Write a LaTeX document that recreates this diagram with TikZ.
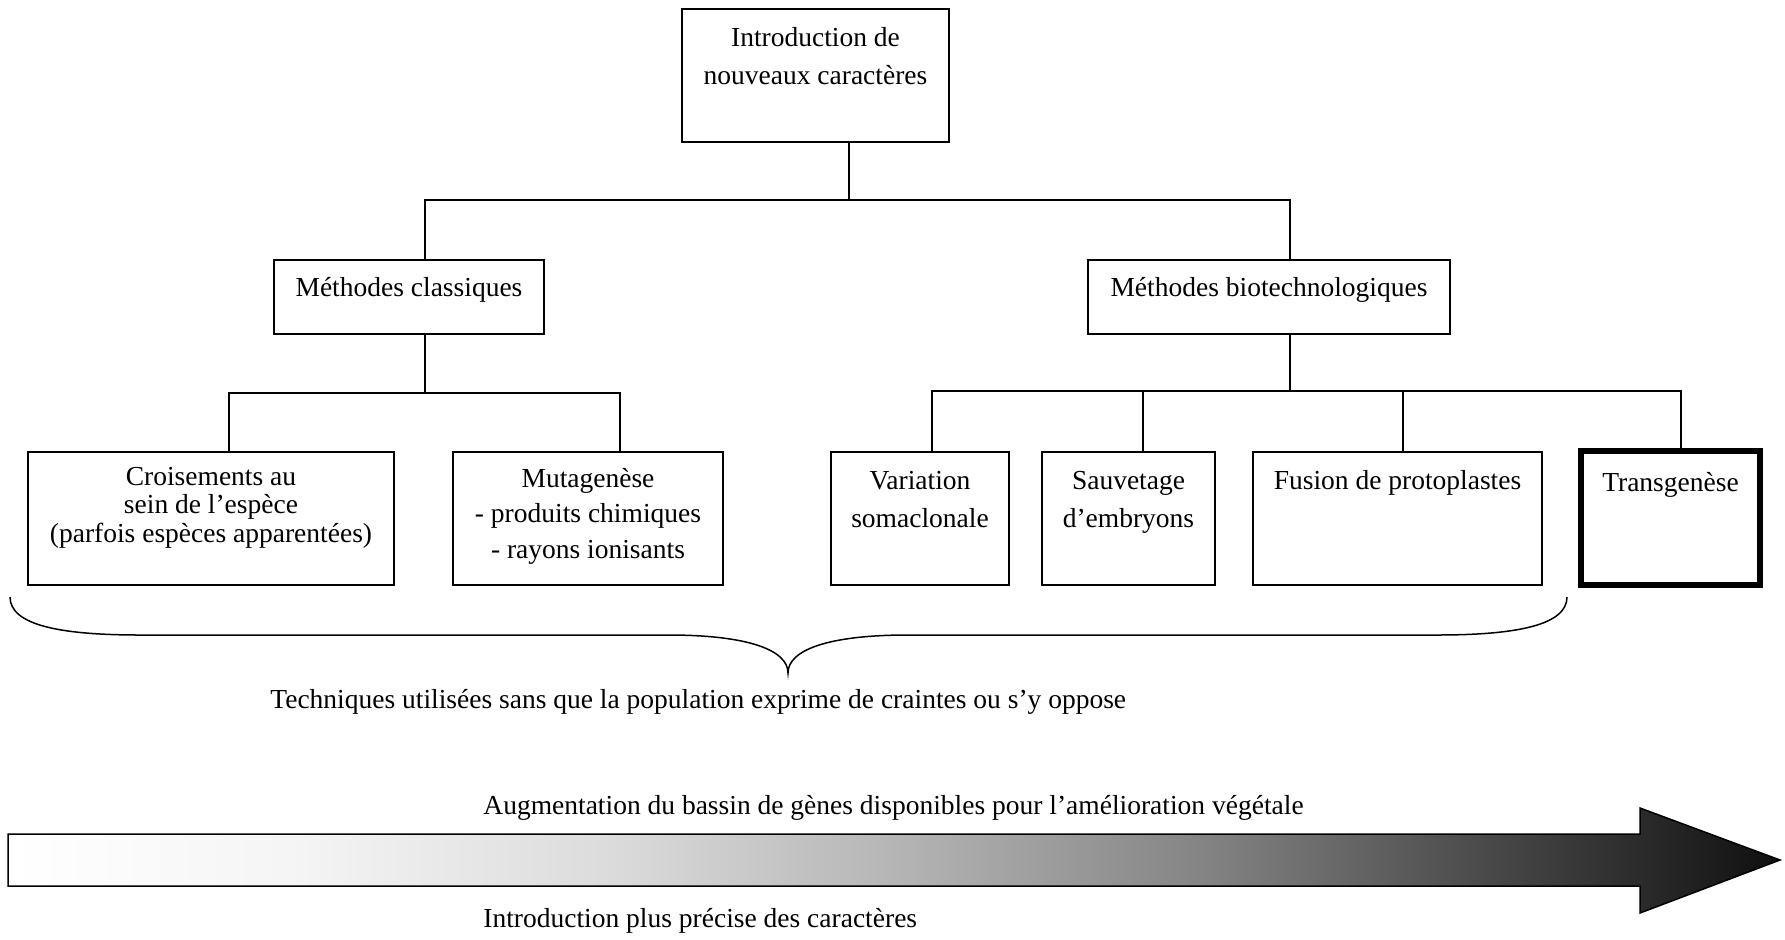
\documentclass[tikz,border=0pt]{standalone}
\usepackage{fontspec}
\setmainfont{Liberation Serif}
\pgfdeclarehorizontalshading{arrowshade}{100bp}{color(0bp)=(white); color(25bp)=(white); color(33bp)=(black!4); color(42bp)=(black!14); color(50bp)=(black!29); color(58.6bp)=(black!48); color(67bp)=(black!72); color(75bp)=(black!94); color(100bp)=(black!94)}
\begin{document}
\begin{tikzpicture}[x=0.5pt,y=-0.5pt,
		font=\fontsize{13.75}{19}\selectfont,
		box/.style={draw,line width=1pt,minimum height=66.5pt,inner sep=0pt},
		lbl/.style={anchor=base,align=center,inner sep=0pt},
		link/.style={line width=0.8pt}]
	\useasboundingbox (0,0) rectangle (1785,939);
	\node[box,minimum width=133.5pt] (intro) at (815.5,75.5) {};
	\node[box,minimum width=135pt,minimum height=37pt] (clas) at (409,297) {};
	\node[box,minimum width=181pt,minimum height=37pt] (bio) at (1269,297) {};
	\node[box,minimum width=183pt] (crois) at (211,518.5) {};
	\node[box,minimum width=134.75pt] (muta) at (588,518.5) {};
	\node[box,minimum width=89.25pt] (vari) at (920,518.5) {};
	\node[box,minimum width=86.5pt] (sauv) at (1128.5,518.5) {};
	\node[box,minimum width=144.5pt] (fusi) at (1397.5,518.5) {};
	\node[box,minimum width=89.5pt,minimum height=67pt,line width=3.25pt] (trans) at (1670.5,518) {};
	% base anchor = last line
	\node[lbl] (intro-t) at (815.5,84) {Introduction de\\nouveaux caractères};
	\node[lbl] (clas-t) at (409,296) {Méthodes classiques};
	\node[lbl] (bio-t) at (1269,296) {Méthodes biotechnologiques};
	\node[lbl,font=\fontsize{13.75}{14.25}\selectfont] (crois-t) at (211,542) {Croisements au\\sein de l’espèce\\(parfois espèces apparentées)};
	\node[lbl,font=\fontsize{13.75}{17.75}\selectfont] (muta-t) at (588,558) {Mutagenèse\\- produits chimiques\\- rayons ionisants};
	\node[lbl] (vari-t) at (920,527) {Variation\\somaclonale};
	\node[lbl] (sauv-t) at (1128.5,527) {Sauvetage\\d’embryons};
	\node[lbl] (fusi-t) at (1397.5,489) {Fusion de protoplastes};
	\node[lbl] (trans-t) at (1670.5,491) {Transgenèse};
	\coordinate (j0) at (849,200);
	\coordinate (j1) at (425,393);
	\coordinate (j2) at (1290,391);
	\draw[link] (intro.south -| j0) -- (j0);
	\draw[link] (clas.north -| j1) |- (j0) -| (bio.north -| j2);
	\draw[link] (clas.south -| j1) -- (j1);
	\draw[link] (bio.south -| j2) -- (j2);
	\draw[link] ([xshift=9pt]crois.north) |- (j1) -| ([xshift=16pt]muta.north);
	\draw[link] ([xshift=6pt]vari.north) |- (j2) -| ([xshift=5.25pt]trans.north);
	\draw[link] ([xshift=7.25pt]sauv.north) -- ([xshift=7.25pt]sauv.north |- j2);
	\draw[link] ([xshift=2.75pt]fusi.north) -- ([xshift=2.75pt]fusi.north |- j2);
	\draw[line width=0.75pt] (10,597) .. controls (10,625) and (60,635) .. (140,635) -- (668,635) .. controls (748,635) and (788,650) .. (788,673) .. controls (788,650) and (828,635) .. (908,635) -- (1437,635) .. controls (1517,635) and (1567,625) .. (1567,597);
	\node[lbl,anchor=base west] (tech) at (270,708) {Techniques utilisées sans que la population exprime de craintes ou s’y oppose};
	\shadedraw[shading=arrowshade,line width=0.75pt] (8,834) -- (1640,834) -- (1640,808) -- (1780,860) -- (1640,913) -- (1640,886) -- (8,886) -- cycle;
	\node[lbl,anchor=base west] (augm) at (483,814) {Augmentation du bassin de gènes disponibles pour l’amélioration végétale};
	\node[lbl,anchor=base west] (prec) at (483,927) {Introduction plus précise des caractères};
\end{tikzpicture}
\end{document}
